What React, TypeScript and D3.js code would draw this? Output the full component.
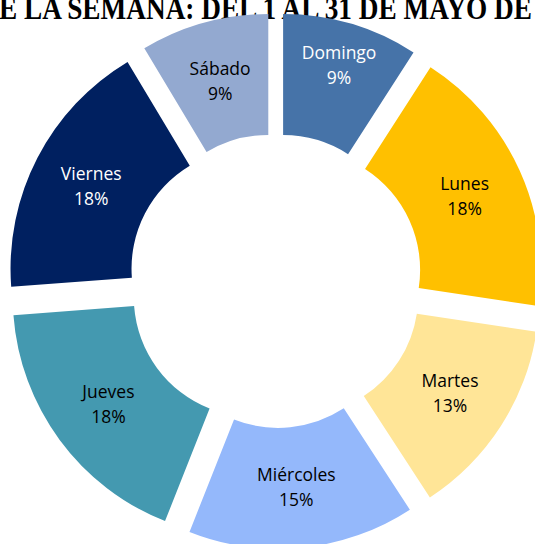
import React from "react";
import * as d3 from "d3";

const categories = ["Domingo", "Lunes", "Martes", "Miércoles", "Jueves", "Viernes", "Sábado"];
const values = [9.1, 18.3, 13.4, 15.2, 17.8, 17.6, 8.6];
const colors = ["#4673A8", "#FFC000", "#FFE597", "#94B8FB", "#4499B0", "#002060", "#93A9D0"];
const labelColors = ["#FFFFFF", "#000000", "#000000", "#000000", "#000000", "#FFFFFF", "#000000"];
const titleText = "E LA SEMANA: DEL 1 AL 31 DE MAYO DE";

const W = 535;
const H = 544;
const cx = 275.5;
const cy = 281;
const outerR = 241;
const innerR = 120;
const explode = 27;
const labelNudge: Record<string, number> = { Domingo: 18 };

export default function App() {
  const pie = d3
    .pie<number>()
    .sort(null)
    .value((d) => d)
    .startAngle(0)
    .endAngle(2 * Math.PI);
  const arcs = pie(values);
  const arc = d3.arc<d3.PieArcDatum<number>>().innerRadius(innerR).outerRadius(outerR);
  const total = d3.sum(values);

  return (
    <svg
      width={W}
      height={H}
      style={{ position: "absolute", left: 0, top: 0, background: "#fff" }}
    >
      <text
        x={-1}
        y={19}
        textLength={533}
        lengthAdjust="spacingAndGlyphs"
        fontFamily="'Liberation Serif', 'DejaVu Serif', serif"
        fontWeight="bold"
        fontSize={31}
        fill="#000"
      >
        {titleText}
      </text>
      <g transform={`translate(${cx},${cy})`}>
        {arcs.map((a, i) => {
          const mid = (a.startAngle + a.endAngle) / 2;
          const dx = explode * Math.sin(mid);
          const dy = -explode * Math.cos(mid);
          const lr = (innerR + outerR) / 2 + (labelNudge[categories[i]] || 0);
          const lx = lr * Math.sin(mid);
          const ly = -lr * Math.cos(mid);
          const pct = Math.round((values[i] / total) * 100);
          return (
            <g key={categories[i]} transform={`translate(${dx},${dy})`}>
              <path d={arc(a) || ""} fill={colors[i]} />
              <text
                x={lx}
                y={ly}
                textAnchor="middle"
                fontFamily="'Open Sans', 'Noto Sans', sans-serif"
                fontSize={17.5}
                fill={labelColors[i]}
              >
                <tspan x={lx} dy={-6}>
                  {categories[i]}
                </tspan>
                <tspan x={lx} dy={25}>
                  {pct}%
                </tspan>
              </text>
            </g>
          );
        })}
      </g>
    </svg>
  );
}
